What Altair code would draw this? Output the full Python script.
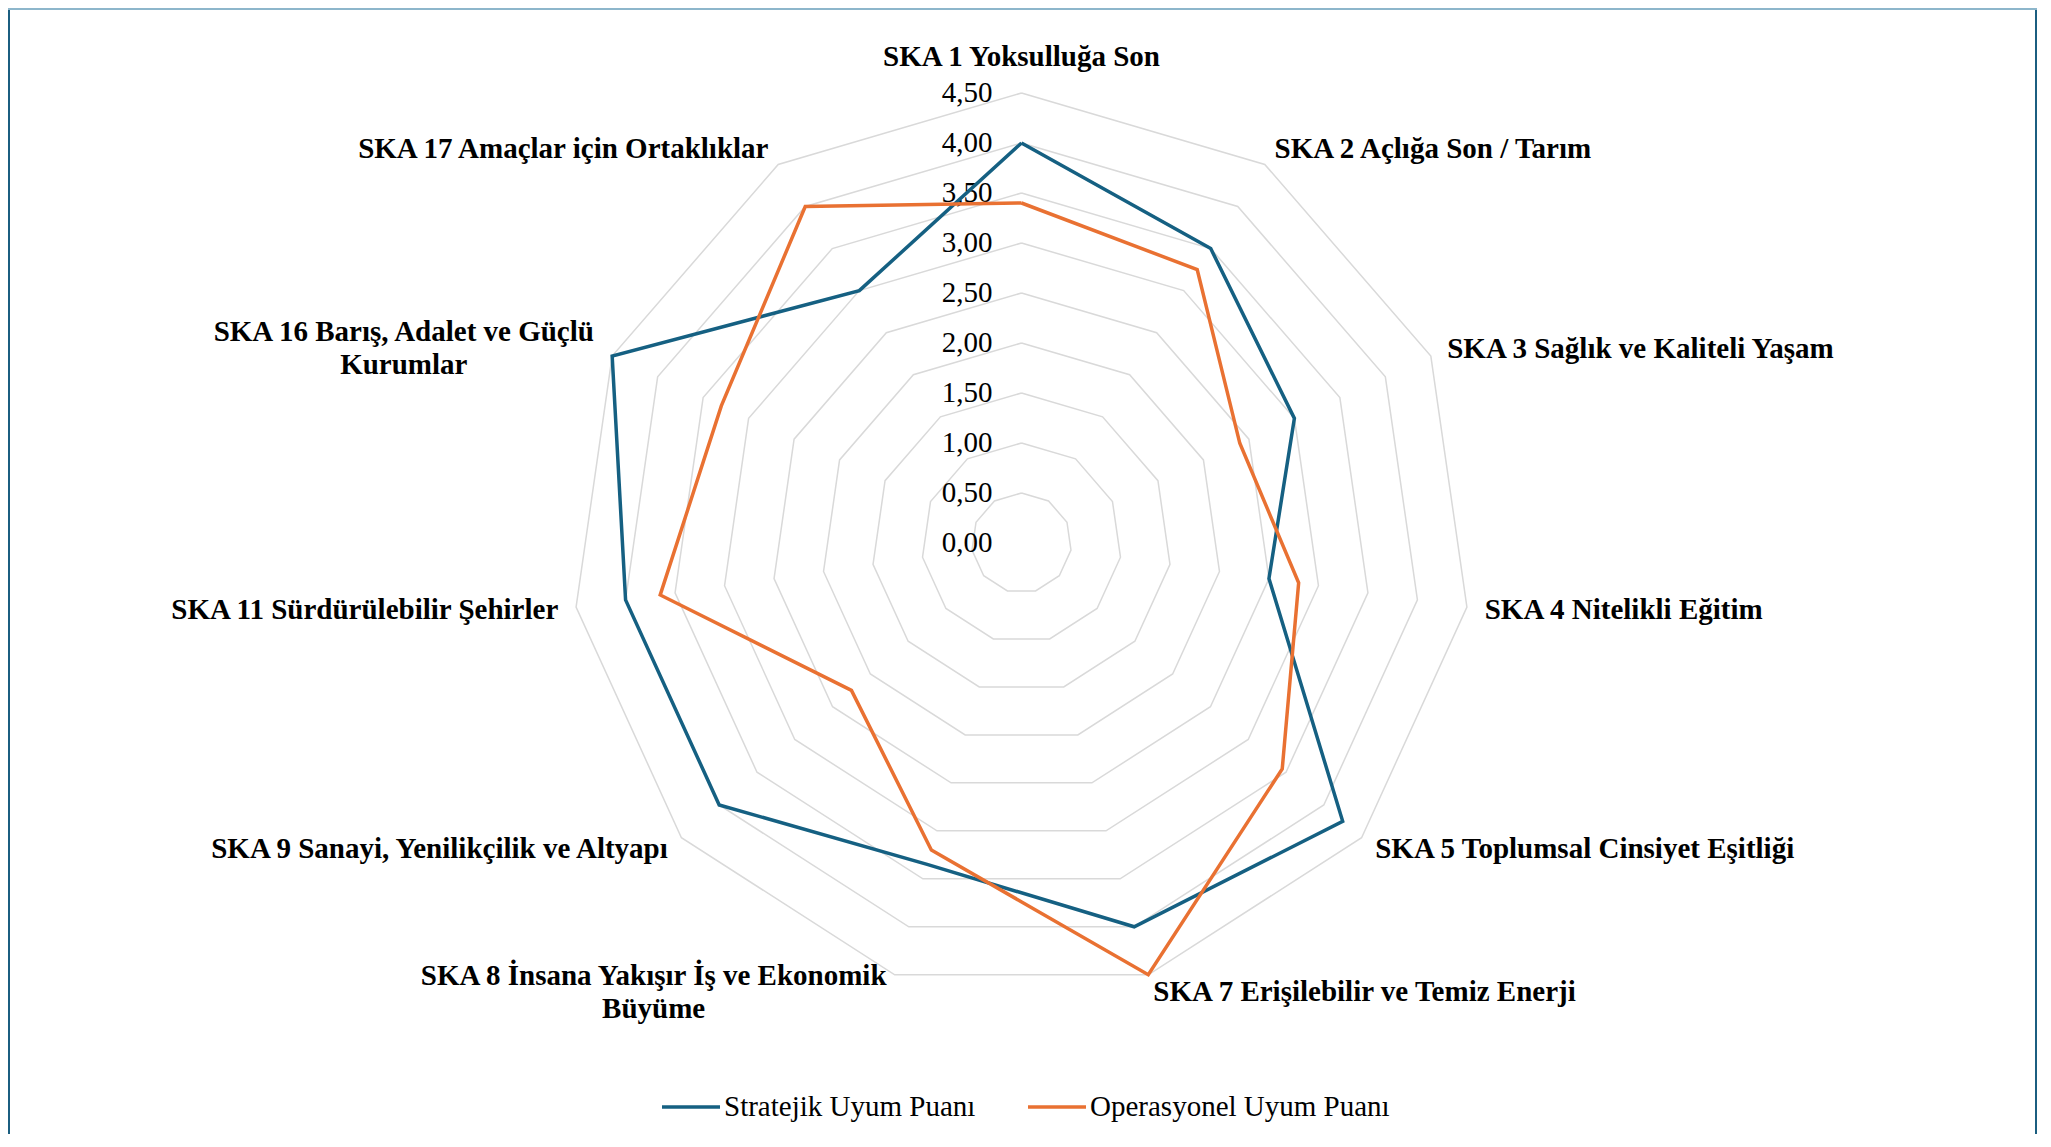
import altair as alt
import pandas as pd

# ---- data ----
categories = [
    "SKA 1 Yoksulluğa Son",
    "SKA 2 Açlığa Son / Tarım",
    "SKA 3 Sağlık ve Kaliteli Yaşam",
    "SKA 4 Nitelikli Eğitim",
    "SKA 5 Toplumsal Cinsiyet Eşitliği",
    "SKA 7 Erişilebilir ve Temiz Enerji",
    "SKA 8 İnsana Yakışır İş ve Ekonomik\nBüyüme",
    "SKA 9 Sanayi, Yenilikçilik ve Altyapı",
    "SKA 11 Sürdürülebilir Şehirler",
    "SKA 16 Barış, Adalet ve Güçlü\nKurumlar",
    "SKA 17 Amaçlar için Ortaklıklar",
]
stratejik = [4.0, 3.5, 3.0, 2.5, 4.25, 4.0, 3.35, 4.0, 4.0, 4.5, 3.0]
operasyonel = [3.4, 3.25, 2.4, 2.8, 3.45, 4.5, 3.2, 2.25, 3.65, 3.3, 4.0]
series_names = ["Stratejik Uyum Puanı", "Operasyonel Uyum Puanı"]
tick_values = [0.0, 0.5, 1.0, 1.5, 2.0, 2.5, 3.0, 3.5, 4.0, 4.5]
tick_labels = ["0,00", "0,50", "1,00", "1,50", "2,00", "2,50", "3,00", "3,50", "4,00", "4,50"]

N = len(categories)
R_MAX = tick_values[-1]
BLUE = "#156082"
ORANGE = "#E97132"
FONT = "Liberation Serif"
FS = 29

W, H = 2030, 1126
# scale: 100 px per unit, centre of the radar at plot (1013.5, 535)
x_dom = [-10.135, (W - 1013.5) / 100]
y_dom = [5.35 - H / 100, 5.35]
xs = alt.Scale(domain=x_dom, nice=False, zero=False)
ys = alt.Scale(domain=y_dom, nice=False, zero=False)

# ---- tables built from the arrays ----
series_rows = []
for name, vals in zip(series_names, [stratejik, operasyonel]):
    for k in range(N + 1):
        series_rows.append({"series": name, "idx": k, "value": vals[k % N]})
series_df = pd.DataFrame(series_rows)

ring_rows = []
for rv in tick_values[1:]:
    for k in range(N + 1):
        ring_rows.append({"ring": rv, "idx": k, "value": rv})
ring_df = pd.DataFrame(ring_rows)

label_df = pd.DataFrame({"cat": categories, "idx": list(range(N))})
tick_df = pd.DataFrame({"v": tick_values, "lab": tick_labels})

ang = f"datum.idx * 2 * PI / {N}"


def polar(ch, r):
    return ch.transform_calculate(
        px=f"{r} * sin({ang})", py=f"{r} * cos({ang})"
    )


X = alt.X("px:Q", scale=xs, axis=None)
Y = alt.Y("py:Q", scale=ys, axis=None)

rings = polar(alt.Chart(ring_df), "datum.value").mark_line(
    color="#D9D9D9", strokeWidth=1.5
).encode(x=X, y=Y, detail="ring:N", order="idx:Q")

lines = polar(alt.Chart(series_df), "datum.value").mark_line(
    strokeWidth=3.5, strokeJoin="miter"
).encode(
    x=X,
    y=Y,
    order="idx:Q",
    color=alt.Color(
        "series:N",
        scale=alt.Scale(domain=series_names, range=[BLUE, ORANGE]),
        legend=alt.Legend(
            orient="none",
            legendX=652,
            legendY=1068,
            direction="horizontal",
            title=None,
            symbolType="stroke",
            symbolSize=3364,
            symbolStrokeWidth=3.5,
            labelFont=FONT,
            labelFontSize=FS,
            labelColor="black",
            labelOffset=2,
            columnPadding=45,
            labelLimit=0,
        ),
    ),
)

ticks = alt.Chart(tick_df).mark_text(
    align="right", baseline="middle", dx=-29, font=FONT, fontSize=FS, color="black"
).encode(x=alt.X("zero:Q", scale=xs, axis=None), y=alt.Y("v:Q", scale=ys, axis=None), text="lab:N").transform_calculate(zero="0")

R_LAB = R_MAX + 0.18


def label_layer(filt, r, **kw):
    base = dict(font=FONT, fontSize=FS, fontWeight="bold", color="black",
                lineBreak="\n", lineHeight=33, baseline="middle")
    base.update(kw)
    return polar(alt.Chart(label_df).transform_filter(filt), r).mark_text(**base).encode(
        x=X, y=Y, text="cat:N"
    )


lab_top = label_layer("datum.idx == 0", R_MAX + 0.36, align="center")
lab_left = label_layer("datum.idx >= 1 && datum.idx <= 5", R_LAB, align="left")
lab_right = label_layer("datum.idx == 7 || datum.idx == 8 || datum.idx == 10", R_LAB, align="right")
lab_8 = label_layer("datum.idx == 6", R_LAB, align="center", dx=-236, dy=-16.5)
lab_16 = label_layer("datum.idx == 9", R_LAB, align="center", dx=-192, dy=-16.5)

frame_left = alt.Chart(tick_df).mark_rule(color="#1B5E80", strokeWidth=2).encode(
    x=alt.value(1), y=alt.value(0), y2=alt.value(H)
)
frame_right = alt.Chart(tick_df).mark_rule(color="#1B5E80", strokeWidth=2).encode(
    x=alt.value(2028), y=alt.value(0), y2=alt.value(H)
)
frame_top = alt.Chart(tick_df).mark_rule(color="#8DB6CB", strokeWidth=2).encode(
    x=alt.value(0), x2=alt.value(2029), y=alt.value(1)
)

chart = alt.layer(
    frame_left, frame_right, frame_top,
    rings, ticks, lines, lab_top, lab_left, lab_right, lab_8, lab_16,
).properties(
    width=W, height=H, padding=0,
    autosize=alt.AutoSizeParams(type="none"),
    background="white",
).configure_view(stroke=None)

chart.save("out.html", embed_options={"renderer": "svg", "actions": False})
